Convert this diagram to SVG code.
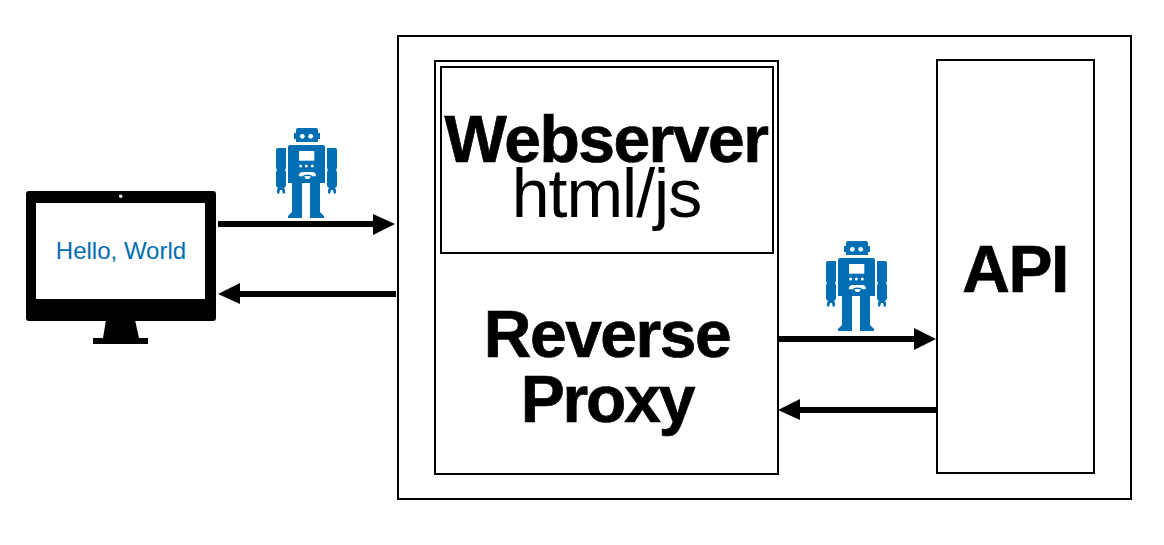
<svg xmlns="http://www.w3.org/2000/svg" width="1164" height="545" viewBox="0 0 1164 545">
<style>
.box{fill:#fff;stroke:#000;stroke-width:2}
.t{font-family:"Liberation Sans",Arial,sans-serif;text-anchor:middle;fill:#000}
.b{font-weight:700;font-size:66px;letter-spacing:-1.500px;stroke:#000;stroke-width:.7px}
.line{fill:none;stroke:#000;stroke-width:6}
.head{fill:#000}
.r{fill:#006eb2}
.w{fill:#fff}
</style>
<defs>
<g id="robot">
<path class="r" d="M296 130Q296 128 298 128H316Q318 128 318 130V133H320V139H318V142H296V139H294V133H296Z"/>
<path class="r" d="M290 145H323Q325 145 325 147V183H320V212L324 216V218H310V183H302V218H288V216L292 212V183H288V147Q288 145 290 145Z"/>
<path id="arm" class="r" d="M276 150Q276 148 278 148H286V168L285 170L286 172V186L284 188L285 190V193L283 194L282 190H280L279 194L277 193V190L278 188L276 186V172L277 170L276 168Z"/>
<use href="#arm" transform="translate(613 0) scale(-1 1)"/>
<circle class="w" cx="302.300" cy="136.300" r="2.400"/><circle class="w" cx="310.700" cy="136.300" r="2.400"/>
<rect class="w" x="299" y="151" width="15.300" height="9.700"/>
<circle class="w" cx="300.700" cy="166" r="1.500"/><circle class="w" cx="306.300" cy="166" r="1.500"/><circle class="w" cx="312.300" cy="166" r="1.500"/>
<path class="w" d="M298.700 176Q299 172 303 172H312Q316 172 316 176L313 176.500Q311 174.500 307.500 174.500Q304 174.500 302 176.500ZM304 176.500Q307.500 175.500 311 176.500L309 179H306Z"/>
</g>
</defs>
<rect width="1164" height="545" fill="#fff"/>
<g id="outer"><rect class="box" x="398" y="36" width="733" height="463"/></g>
<g id="proxy"><rect class="box" x="435" y="61" width="343" height="413"/>
<text class="t b" x="607" y="357">Reverse</text><text class="t b" x="607" y="422" style="letter-spacing:-2.200px">Proxy</text></g>
<g id="webserver"><rect class="box" x="441" y="67" width="332" height="186"/>
<text class="t b" x="606" y="162">Webserver</text><text class="t" font-size="68" x="606.500" y="217" style="letter-spacing:-1px">html/js</text></g>
<g id="api"><rect class="box" x="937" y="60" width="157" height="413"/>
<text class="t b" x="1015" y="292">API</text></g>
<g id="client">
<rect class="head" x="26" y="191" width="190" height="130" rx="3"/>
<rect class="w" x="36" y="203" width="169" height="96"/>
<circle class="w" cx="120.700" cy="196.300" r="1.700"/>
<path class="head" d="M106 320H135L139 338H148V344H93V338H103Z"/>
<text x="121" y="259" font-family="Liberation Sans,Arial,sans-serif" font-size="24" text-anchor="middle" fill="#006eb2">Hello, World</text>
</g>
<g id="connectors">
<path class="line" d="M218 224H376"/><path d="M373 214L395 224L373 235Z"/>
<path class="line" d="M396 294H238"/><path d="M240 283L218 294L240 304Z"/>
<path class="line" d="M778 339H918"/><path d="M914 328L936 339L914 350Z"/>
<path class="line" d="M937 410H798"/><path d="M800 399L778 410L800 420Z"/>
</g>
<g id="robot1"><use href="#robot"/></g>
<g id="robot2" transform="translate(550 113)"><use href="#robot"/></g>
</svg>
